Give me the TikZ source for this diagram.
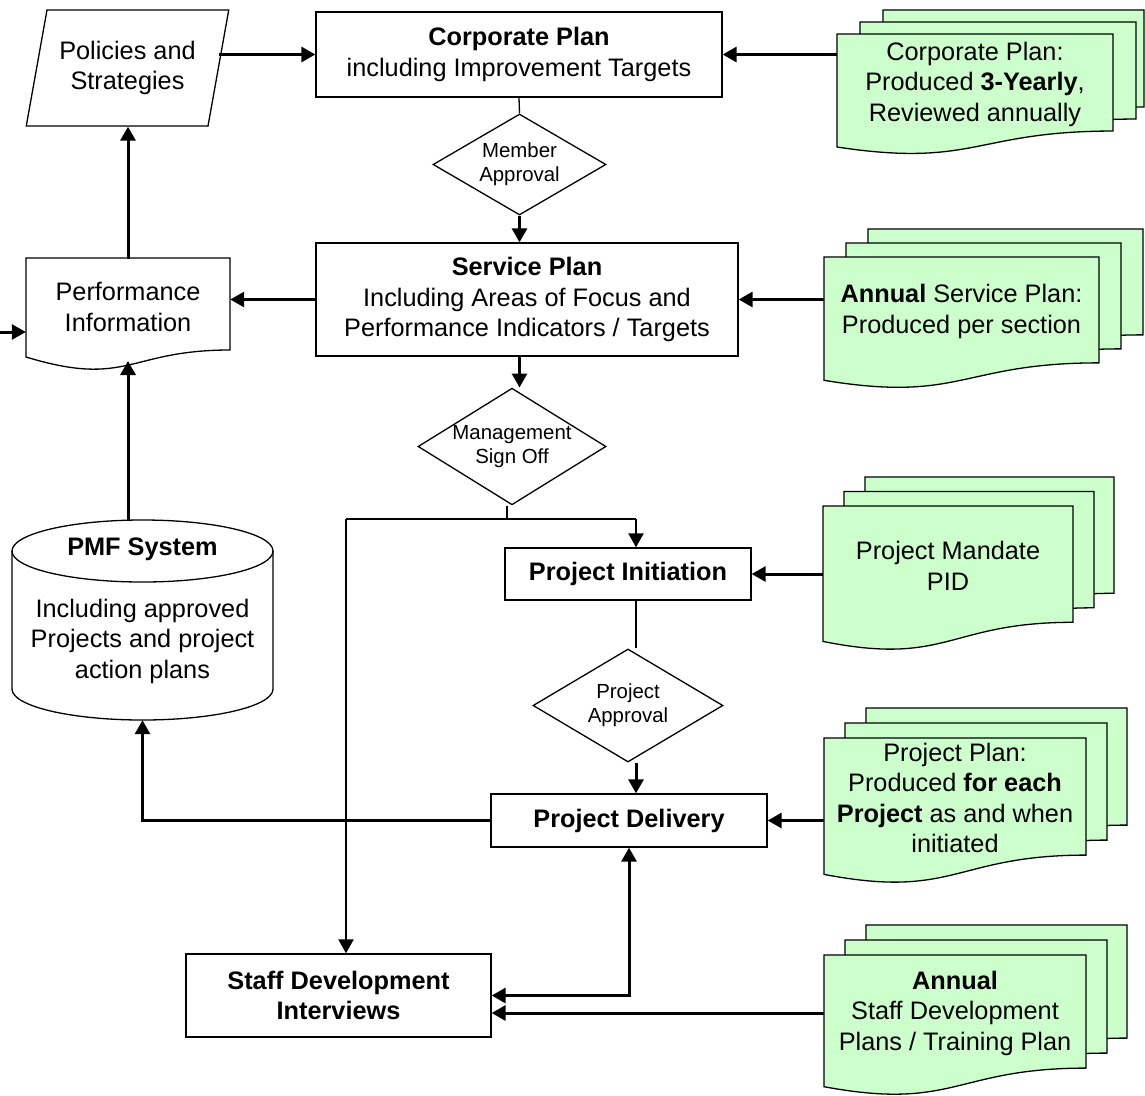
\documentclass[tikz,border=0pt]{standalone}
\usepackage{fontspec}
\setmainfont{Liberation Sans}
\usetikzlibrary{shapes.geometric,arrows.meta,calc}
\definecolor{docgreen}{RGB}{204,255,204}
\tikzset{
  txt/.style={font=\fontsize{25.3}{30.5}\selectfont, align=center, inner sep=0pt},
  smalltxt/.style={font=\fontsize{20.4}{24}\selectfont, align=center, inner sep=0pt},
  thinline/.style={line width=1.3pt},
  midline/.style={line width=2.2pt},
  box/.style={txt, draw, thinline},
  dia/.style={diamond, draw, thinline, smalltxt, aspect=1.68},
  docsty/.style={draw, thinline, fill=docgreen},
  arr/.style={line width=3pt, -{Triangle[length=14pt,width=15pt]}},
  midarr/.style={midline, -{Triangle[length=14pt,width=15pt]}},
}
% document shape: x, y (top left), width, height
\newcommand\docshape[4]{%
  \path[docsty] (#1,#2) -- ({#1+#3},#2) -- ({#1+#3},{#2+0.802*#4})
    .. controls ({#1+0.5*#3},{#2+0.802*#4}) and ({#1+0.5*#3},{#2+1.107*#4})
    .. (#1,{#2+0.934*#4}) -- cycle;}
% name, x, y, w, h, dx, dy, back width, text
\newcommand\multidoc[9]{%
  \docshape{#2+2*#6}{#3-2*#7}{#8}{#5}%
  \docshape{#2+#6}{#3-#7}{#4}{#5}%
  \docshape{#2}{#3}{#4}{#5}%
  \node[txt, minimum width=#4pt, minimum height={0.802*#5pt}] (#1) at ({#2+0.5*#4},{#3+0.401*#5+1.5}) {#9};}
\begin{document}
\begin{tikzpicture}[x=1pt,y=-1pt]
\useasboundingbox (0,0) rectangle (1145,1095);

% ---- left column ----
\node[trapezium, trapezium left angle=72, trapezium right angle=108, trapezium stretches=true,
      draw, thinline, txt, minimum width=203pt, minimum height=116pt] (pol) at (127.5,68) {Policies and\\Strategies};

\path[draw, thinline, fill=white] (26,258) -- (230,258) -- (230,350)
   .. controls (128,350) and (128,388) .. (26,357) -- cycle;
\node[txt, minimum width=204pt, minimum height=96pt] (pinf) at (128,307) {Performance\\Information};

\draw[thinline] (12,551) -- (12,689) arc[start angle=180, end angle=360, x radius=130.5pt, y radius=31pt] -- (273,551);
\draw[thinline] (142.5,551) ellipse[x radius=130.5pt, y radius=31pt];
\node[minimum width=261pt, minimum height=200pt, inner sep=0pt] (pmf) at (142.5,620) {};
\node[txt] (pmfhead) at (142.5,549) {\textbf{PMF System}};
\node[txt] (pmfbody) at (142.5,641) {Including approved\\Projects and project\\action plans};

% ---- centre column ----
\node[box, minimum width=406pt, minimum height=85pt] (cp) at (519,54.5) {\textbf{Corporate Plan}\\including Improvement Targets};
\node[dia, minimum width=173pt, minimum height=101pt] (ma) at (519.5,164.5) {Member\\Approval};
\node[box, minimum width=422pt, minimum height=113pt] (sp) at (527,299.5) {\textbf{Service Plan}\\Including Areas of Focus and\\Performance Indicators / Targets};
\node[dia, minimum width=188pt, minimum height=115pt, aspect=1.6] (ms) at (512,446.5) {Management\\Sign Off};
\node[box, minimum width=246pt, minimum height=52pt] (pin) at (628,574) {\textbf{Project Initiation}};
\node[dia, minimum width=190pt, minimum height=113pt] (pa) at (628,705.5) {Project\\Approval};
\node[box, minimum width=276pt, minimum height=53pt] (pd) at (629,820.5) {\textbf{Project Delivery}};
\node[box, minimum width=305pt, minimum height=83pt] (sd) at (338.5,995.5) {\textbf{Staff Development}\\\textbf{Interviews}};

% ---- right column: document stacks ----
\multidoc{d1}{837}{34}{276}{121}{23}{12}{261}{Corporate Plan:\\Produced \textbf{3-Yearly},\\Reviewed annually}
\multidoc{d2}{824}{257}{275}{132}{22}{14}{275}{\textbf{Annual} Service Plan:\\Produced per section}
\multidoc{d3}{823}{506}{250}{145}{21}{14.5}{249}{Project Mandate\\PID}
\multidoc{d4}{824}{738}{262}{146}{21}{15}{261}{Project Plan:\\Produced \textbf{for each}\\\textbf{Project} as and when\\initiated}
\multidoc{d5}{824}{955}{262}{141}{21}{15}{261}{\textbf{Annual}\\Staff Development\\Plans / Training Plan}

% ---- connectors ----
\draw[arr] (pol.east |- cp.west) -- (cp.west);
\draw[arr] (d1.west |- cp.east) -- (cp.east);
\draw[thinline] (cp.south) -- (ma.north);
\draw[arr] (ma.south) -- (ma.south |- sp.north);
\draw[arr] (d2.west |- sp.east) -- (sp.east);
\draw[arr] (sp.west) -- (sp.west -| pinf.east);
\coordinate (lin) at (0,332);
\draw[arr] (lin) -- (lin -| pinf.west);
\draw[arr] (pinf.north) -- (pinf.north |- pol.south);
\coordinate (pinfb) at (128,361);
\draw[arr] (pinfb |- pmf.north) -- (pinfb);
\draw[arr] (ma.south |- sp.south) -- (ma.south |- ms.north);
\coordinate (j1) at (507,519);
\coordinate (jl) at (346,519);
\coordinate (jr) at (636,519);
\draw[thinline] (j1 |- ms.south) -- (j1);
\draw[midline] (jl) -- (jr);
\draw[midarr] (jr) -- (jr |- pin.north);
\draw[midarr] (jl) -- (jl |- sd.north);
\draw[thinline] (jr |- pin.south) -- (jr |- pa.north);
\draw[arr] (jr |- pa.south) -- (jr |- pd.north);
\draw[arr] (d3.west |- pin.east) -- (pin.east);
\draw[arr] (d4.west |- pd.east) -- (pd.east);
\draw[arr] (pd.west) -- (pd.west -| pmf.south) -- (pmf.south);
\draw[line width=3pt, {Triangle[length=14pt,width=15pt]}-{Triangle[length=14pt,width=15pt]}] (sd.east) -- (pd.south |- sd.east) -- (pd.south);
\coordinate (sdlow) at ($(sd.east)+(0,17.5)$);
\draw[arr] (d5.west |- sdlow) -- (sdlow);
\end{tikzpicture}
\end{document}
